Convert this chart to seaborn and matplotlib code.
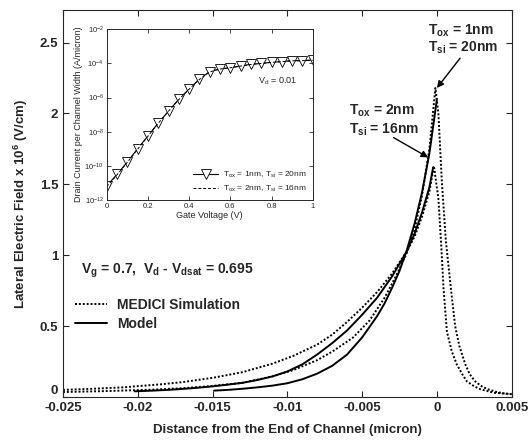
import numpy as np
import pandas as pd
import matplotlib
matplotlib.use('Agg')
import matplotlib.pyplot as plt
from matplotlib.lines import Line2D
from matplotlib.ticker import FormatStrFormatter, FixedLocator, NullLocator
import seaborn as sns

# main plot: lateral field (x 1e6 V/cm) vs distance from channel end (micron)
medici_1nm_x = [-0.025, -0.022, -0.019, -0.017, -0.015, -0.013, -0.011, -0.0096, -0.008, -0.007,
                -0.0056, -0.0045, -0.0035, -0.0027, -0.002, -0.0015, -0.001, -0.0005, -0.0001,
                0.0001, 0.00033, 0.0006, 0.00093, 0.00122, 0.0015, 0.0019, 0.0022, 0.00256,
                0.003, 0.0034, 0.004, 0.0045, 0.005]
medici_1nm_y = [0.035, 0.042, 0.052, 0.062, 0.078, 0.10, 0.145, 0.19, 0.26, 0.32,
                0.42, 0.54, 0.70, 0.86, 1.02, 1.18, 1.42, 1.75, 2.18,
                2.0, 1.52, 1.10, 0.77, 0.50, 0.36, 0.23, 0.16, 0.11,
                0.075, 0.055, 0.035, 0.025, 0.02]

medici_2nm_x = [-0.025, -0.023, -0.021, -0.0185, -0.017, -0.015, -0.013, -0.011, -0.0096, -0.008,
                -0.007, -0.006, -0.005, -0.004, -0.003, -0.002, -0.0015, -0.001, -0.0005, -0.0002,
                0.0001, 0.0003, 0.00044, 0.00067, 0.001, 0.00133, 0.0017, 0.002, 0.0025, 0.0029,
                0.0038, 0.005]
medici_2nm_y = [0.05, 0.058, 0.068, 0.089, 0.105, 0.135, 0.175, 0.235, 0.29, 0.37,
                0.44, 0.53, 0.63, 0.74, 0.87, 1.03, 1.13, 1.27, 1.45, 1.63,
                1.40, 1.05, 0.77, 0.46, 0.32, 0.23, 0.16, 0.11, 0.075, 0.055,
                0.03, 0.02]

model_1nm_x = [-0.0149, -0.014, -0.013, -0.012, -0.011, -0.010, -0.009, -0.008, -0.007, -0.006,
               -0.005, -0.004, -0.0035, -0.003, -0.0025, -0.002, -0.0015, -0.001, -0.0005, 0.0]
model_1nm_y = [0.045, 0.05, 0.058, 0.068, 0.08, 0.097, 0.125, 0.165, 0.22, 0.30,
               0.42, 0.57, 0.66, 0.77, 0.89, 1.04, 1.22, 1.44, 1.72, 2.10]

model_2nm_x = [-0.0202, -0.019, -0.018, -0.017, -0.016, -0.015, -0.014, -0.013, -0.012, -0.011,
               -0.010, -0.009, -0.008, -0.007, -0.006, -0.005, -0.004, -0.003, -0.002, -0.0015,
               -0.001, -0.0005, -0.00025]
model_2nm_y = [0.04, 0.045, 0.05, 0.057, 0.065, 0.075, 0.087, 0.10, 0.12, 0.145,
               0.18, 0.23, 0.30, 0.38, 0.47, 0.58, 0.70, 0.85, 1.03, 1.15,
               1.30, 1.48, 1.62]

# inset: drain current vs gate voltage
vg = [0.0, 0.05, 0.1, 0.15, 0.2, 0.25, 0.3, 0.35, 0.4, 0.45, 0.5,
      0.55, 0.6, 0.65, 0.7, 0.75, 0.8, 0.85, 0.9, 0.95, 1.0]
id_1nm = [6.6e-12, 3.2e-11, 1.7e-10, 1.0e-9, 5.6e-9, 3.2e-8, 1.6e-7, 7.9e-7, 3.2e-6, 1.2e-5, 3.3e-5,
          4.8e-5, 5.6e-5, 7.1e-5, 8.9e-5, 1.0e-4, 1.17e-4, 1.29e-4, 1.45e-4, 1.45e-4, 1.58e-4]
id_2nm = [6.0e-12, 3.0e-11, 1.6e-10, 9.5e-10, 5.4e-9, 3.1e-8, 1.6e-7, 7.6e-7, 3.1e-6, 1.15e-5, 3.2e-5,
          4.7e-5, 5.6e-5, 7.0e-5, 8.7e-5, 1.0e-4, 1.15e-4, 1.27e-4, 1.42e-4, 1.45e-4, 1.55e-4]

xticks = [-0.025, -0.02, -0.015, -0.01, -0.005, 0, 0.005]
yticks = [0, 0.5, 1, 1.5, 2, 2.5]
inset_xticks = [0, 0.2, 0.4, 0.6, 0.8, 1]
inset_yticks = [1e-12, 1e-10, 1e-8, 1e-6, 1e-4, 1e-2]

sns.set_style('ticks')
plt.rcParams['font.family'] = ['Liberation Sans', 'DejaVu Sans']
plt.rcParams['mathtext.fontset'] = 'custom'
plt.rcParams['mathtext.rm'] = 'Liberation Sans'
plt.rcParams['mathtext.bf'] = 'Liberation Sans:bold'
plt.rcParams['mathtext.it'] = 'Liberation Sans:italic'
plt.rcParams['axes.unicode_minus'] = False
plt.rcParams['xtick.direction'] = 'in'
plt.rcParams['ytick.direction'] = 'in'

fig = plt.figure(figsize=(5.28, 4.41), dpi=100)
ax = fig.add_axes([0.1193, 0.0998, 0.8498, 0.8775])

dotted = (0, (1, 1))
for xs, ys, ls in [(medici_1nm_x, medici_1nm_y, dotted), (medici_2nm_x, medici_2nm_y, dotted),
                   (model_1nm_x, model_1nm_y, '-'), (model_2nm_x, model_2nm_y, '-')]:
    d = pd.DataFrame({'x': xs, 'y': ys})
    sns.lineplot(data=d, x='x', y='y', ax=ax, color='k', linestyle=ls, lw=1.4,
                 estimator=None, sort=False)

ax.set_xlim(-0.025, 0.005)
ax.set_ylim(0, 2.73)
ax.xaxis.set_major_locator(FixedLocator(xticks))
ax.yaxis.set_major_locator(FixedLocator(yticks))
ax.xaxis.set_major_formatter(FormatStrFormatter('%g'))
ax.yaxis.set_major_formatter(FormatStrFormatter('%g'))
ax.tick_params(top=True, right=True, length=4, width=0.8, labelsize=9.5)
for lab in ax.get_xticklabels() + ax.get_yticklabels():
    lab.set_fontweight('bold')
ax.yaxis.get_major_ticks()[0].label1.set_verticalalignment('bottom')
for s in ax.spines.values():
    s.set_linewidth(0.8)
ax.set_xlabel('Distance from the End of Channel (micron)', fontsize=9.5, fontweight='bold', labelpad=7)
ax.set_ylabel(r'Lateral Electric Field x 10$^{\mathbf{6}}$ (V/cm)', fontsize=9.5, fontweight='bold', labelpad=7)

ax.text(-0.0238, 0.87, r'V$_{\mathbf{g}}$ = 0.7,  V$_{\mathbf{d}}$ - V$_{\mathbf{dsat}}$ = 0.695',
        fontsize=10, fontweight='bold')
ax.text(-0.00058, 2.56, r'T$_{\mathbf{ox}}$ = 1nm', fontsize=10, fontweight='bold')
ax.text(-0.00058, 2.44, r'T$_{\mathbf{si}}$ = 20nm', fontsize=10, fontweight='bold')
ax.text(-0.0059, 1.99, r'T$_{\mathbf{ox}}$ = 2nm', fontsize=10, fontweight='bold')
ax.text(-0.0059, 1.86, r'T$_{\mathbf{si}}$ = 16nm', fontsize=10, fontweight='bold')
arrow = dict(arrowstyle='-|>', color='k', lw=1, mutation_scale=10, shrinkA=0, shrinkB=0)
ax.annotate('', xy=(0.0, 2.18), xytext=(0.00155, 2.39), arrowprops=arrow)
ax.annotate('', xy=(-0.00058, 1.69), xytext=(-0.0029, 1.83), arrowprops=arrow)

handles = [Line2D([], [], color='k', ls=dotted, lw=1.4), Line2D([], [], color='k', ls='-', lw=1.4)]
ax.legend(handles, ['MEDICI Simulation', 'Model'], loc='upper left', bbox_to_anchor=(0.027, 0.255),
          frameon=False, borderpad=0, borderaxespad=0, handlelength=2.3, handletextpad=0.7,
          labelspacing=0.35, prop={'size': 10, 'weight': 'bold'})

# inset
axi = fig.add_axes([0.2021, 0.5465, 0.3902, 0.3871])
d1 = pd.DataFrame({'vg': vg, 'id': id_1nm})
d2 = pd.DataFrame({'vg': vg, 'id': id_2nm})
sns.lineplot(data=d1, x='vg', y='id', ax=axi, color='k', lw=0.8, marker='v', markersize=7,
             markerfacecolor='white', markeredgecolor='k', markeredgewidth=0.6, estimator=None)
sns.lineplot(data=d2, x='vg', y='id', ax=axi, color='k', lw=0.7, linestyle=(0, (3, 2)), estimator=None)
axi.set_yscale('log')
axi.set_xlim(0, 1)
axi.set_ylim(1e-12, 1e-2)
axi.xaxis.set_major_locator(FixedLocator(inset_xticks))
axi.xaxis.set_major_formatter(FormatStrFormatter('%g'))
axi.yaxis.set_major_locator(FixedLocator(inset_yticks))
axi.yaxis.set_minor_locator(NullLocator())
axi.tick_params(top=True, right=True, length=3, width=0.6, labelsize=5.5, pad=2)
for s in axi.spines.values():
    s.set_linewidth(0.7)
axi.set_xlabel('Gate Voltage (V)', fontsize=6.5, labelpad=1)
axi.set_ylabel('Drain Current per Channel Width (A/micron)', fontsize=6.5, labelpad=1)
axi.text(0.735, 0.685, r'V$_{\mathrm{d}}$ = 0.01', transform=axi.transAxes, fontsize=6.5)
ih = [Line2D([], [], color='k', lw=0.8, marker='v', markersize=7, markerfacecolor='white', markeredgewidth=0.6),
      Line2D([], [], color='k', lw=0.7, ls=(0, (3, 2)))]
axi.legend(ih, [r'T$_{\mathrm{ox}}$ = 1nm, T$_{\mathrm{si}}$ = 20nm', r'T$_{\mathrm{ox}}$ = 2nm, T$_{\mathrm{si}}$ = 16nm'],
           loc='lower right', frameon=False, fontsize=6, handlelength=3.0, handletextpad=0.6,
           borderaxespad=0.3, labelspacing=0.5)

fig.savefig('out.png', dpi=100)
